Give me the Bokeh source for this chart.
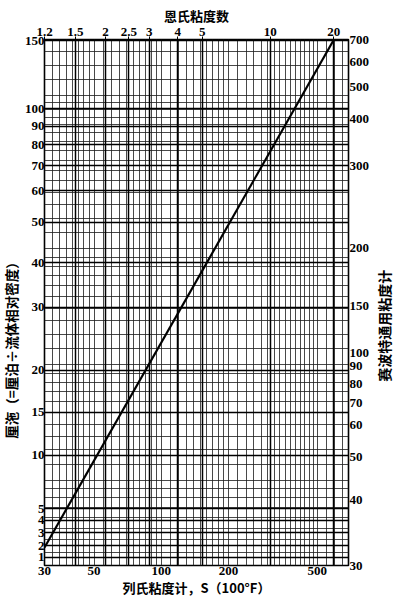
import math
from bokeh.plotting import figure
from bokeh.layouts import row
from bokeh.models import Range1d, LogAxis, FixedTicker, Grid
from bokeh.core.properties import value
from bokeh.embed import file_html
from bokeh.resources import INLINE

# ---- data ----
# bottom axis: Redwood seconds (100°F), log scale
redwood_ticks = [30, 50, 100, 200, 500]
# top axis: Engler degrees, placed at their Redwood-second equivalents
engler_labels = ["1.2", "1.5", "2", "2.5", "3", "4", "5", "10", "20"]
engler_redwood = [30.0, 41.2, 56.3, 71.7, 88.3, 118.6, 152.5, 308.0, 593.0]
# left axis: centistokes, placed at their Saybolt-second equivalents
cst_labels = [1, 2, 3, 4, 5, 10, 15, 20, 30, 40, 50, 60, 70, 80, 90, 100, 150]
cst_saybolt = [31.5, 33.8, 36.5, 39.3, 42.2, 58.0, 75.0, 96.5, 140.7, 184.0,
               234.0, 283.0, 329.0, 373.0, 416.0, 463.0, 695.0]
# right axis: Saybolt universal seconds labels and their grid positions
saybolt_labels = [30, 40, 50, 60, 70, 80, 90, 100, 150, 200, 300, 400, 500, 600, 700]
saybolt_pos = [30.0, 44.5, 57.3, 69.4, 79.6, 89.2, 98.8, 107.0, 142.0, 201.0,
               329.0, 436.0, 528.0, 610.0, 700.0]
# conversion line
line_redwood = [30.0, 594.0]
line_saybolt = [33.4, 700.0]

# chart grid spacing (seconds)
grid_redwood = ([30, 32.5, 35, 37.5, 40, 42.5, 45, 47.5]
                + list(range(50, 100, 5)) + list(range(100, 200, 10))
                + list(range(200, 500, 20)) + [500, 550, 600, 650])
grid_saybolt = ([30, 32.5, 35, 37.5, 40, 42.5, 45, 47.5]
                + list(range(50, 100, 5)) + list(range(100, 200, 10))
                + list(range(200, 500, 20)) + [500, 550, 600, 650, 700])
grid_redwood = [float(v) for v in grid_redwood]
grid_saybolt = [float(v) for v in grid_saybolt]

# axis titles
title_top = "恩氏粘度数"
title_bottom = "列氏粘度计，S（100°F）"
title_left = "厘沲（=厘泊÷流体相对密度）"
title_right = "赛波特通用粘度计"
title_left_pos = 111.0    # Saybolt-scale centre of the left title
title_right_pos = 126.0   # Saybolt-scale centre of the right title

X0, X1 = 30, 690
Y0, Y1 = 30, 700
TOP, BOTTOM = 39, 34
H = 599
LEFT_W, RIGHT_W = 21, 22

NUM_FONT = "Liberation Serif"
CJK_FONT = "Noto Sans CJK SC"

y_range = Range1d(Y0, Y1)

p = figure(width=394 - LEFT_W - RIGHT_W, height=H, x_axis_type="log", y_axis_type="log",
           x_range=Range1d(X0, X1), y_range=y_range,
           output_backend="svg", toolbar_location=None,
           min_border_left=19, min_border_right=20,
           min_border_top=TOP, min_border_bottom=BOTTOM)
p.background_fill_color = "white"
p.border_fill_color = "white"
p.outline_line_color = "black"
p.outline_line_width = 1.6

GRID_COLOR = "#1e1e1e"
p.xgrid.ticker = FixedTicker(ticks=grid_redwood)
p.ygrid.ticker = FixedTicker(ticks=grid_saybolt)
for g in (p.xgrid[0], p.ygrid[0]):
    g.grid_line_color = GRID_COLOR
    g.grid_line_width = 0.9
    g.grid_line_alpha = 0.9
p.add_layout(Grid(dimension=0, ticker=FixedTicker(ticks=engler_redwood),
                  grid_line_color="black", grid_line_width=1.5))
p.add_layout(Grid(dimension=1, ticker=FixedTicker(ticks=cst_saybolt),
                  grid_line_color="black", grid_line_width=1.5))

p.line(line_redwood, line_saybolt, line_color="black", line_width=2.2)


def style_axis(ax, tick_out=2, standoff=2):
    ax.major_label_text_font = NUM_FONT
    ax.major_label_text_font_style = "bold"
    ax.major_label_text_font_size = "13px"
    ax.major_label_text_color = "black"
    ax.axis_line_color = None
    ax.major_tick_line_color = "black"
    ax.major_tick_in = 0
    ax.major_tick_out = tick_out
    ax.minor_tick_line_color = None
    ax.major_label_standoff = standoff
    ax.axis_label_text_font = CJK_FONT
    ax.axis_label_text_font_style = "bold"
    ax.axis_label_text_font_size = "13px"
    ax.axis_label_text_color = "black"
    ax.axis_label_standoff = 0


bottom = p.below[0]
bottom.ticker = FixedTicker(ticks=redwood_ticks)
bottom.major_label_overrides = {v: str(v) for v in redwood_ticks}
style_axis(bottom, 0, 1)
bottom.axis_label = title_bottom

left = p.left[0]
left.ticker = FixedTicker(ticks=cst_saybolt)
left.major_label_overrides = {s: str(c) for s, c in zip(cst_saybolt, cst_labels)}
style_axis(left, 0, 0)

top = LogAxis(ticker=FixedTicker(ticks=engler_redwood),
              major_label_overrides={r: e for r, e in zip(engler_redwood, engler_labels)})
style_axis(top, 3, 1)
top.axis_label = title_top
p.add_layout(top, "above")

right = LogAxis(ticker=FixedTicker(ticks=saybolt_pos),
                major_label_overrides={s: str(l) for s, l in zip(saybolt_pos, saybolt_labels)})
style_axis(right, 0, 1)
p.add_layout(right, "right")


def side_title(text, pos, size, width):
    f = figure(width=width, height=H, y_axis_type="log",
               x_range=Range1d(0, 1), y_range=y_range,
               x_axis_location=None, y_axis_location=None,
               output_backend="svg", toolbar_location=None,
               min_border_left=0, min_border_right=0,
               min_border_top=TOP, min_border_bottom=BOTTOM)
    f.grid.visible = False
    f.outline_line_color = None
    f.background_fill_color = "white"
    f.border_fill_color = "white"
    f.text(x=[0.5], y=[pos], text=[text], angle=math.pi / 2,
           text_align="center", text_baseline="middle",
           text_font=value(CJK_FONT), text_font_style="bold",
           text_font_size=size, text_color="black")
    return f


left_title = side_title(title_left, title_left_pos, "13.5px", LEFT_W)
right_title = side_title(title_right, title_right_pos, "14px", RIGHT_W)

layout = row(left_title, p, right_title, spacing=0)

open("out.html", "w").write(file_html(layout, INLINE))
